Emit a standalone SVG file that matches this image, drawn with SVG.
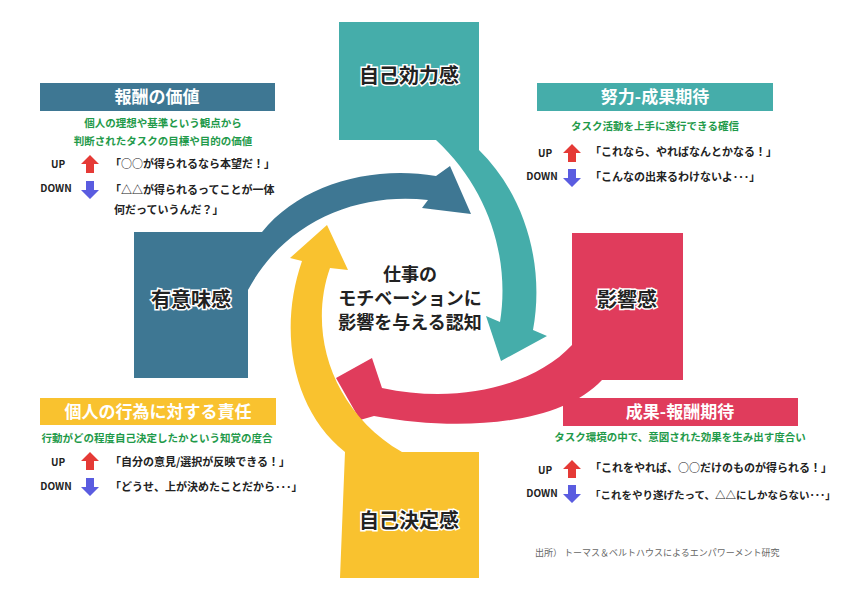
<svg xmlns="http://www.w3.org/2000/svg" width="841" height="595" viewBox="0 0 841 595">
<style>
text{font-family:"Noto Sans CJK JP","Noto Sans",sans-serif;font-weight:700}
.big{font-size:20px;fill:#222;stroke:#fff;stroke-width:3px;paint-order:stroke;text-anchor:middle}
.hd{font-size:17px;fill:#fff;text-anchor:middle}
.gr{font-size:10.5px;fill:#1f9a4a;text-anchor:middle}
.q{font-size:11px;fill:#222}
.ud{font-size:10px;fill:#222;text-anchor:middle}
.ctr{font-size:18px;fill:#222;text-anchor:middle}
</style>
<defs>
<path id="up" d="M0,-9 L9,0 L4,0 L4,9 L-4,9 L-4,0 L-9,0 Z" fill="#e53a36"/>
<path id="dn" d="M0,9 L9,0 L4,0 L4,-9 L-4,-9 L-4,0 L-9,0 Z" fill="#5a5ce0"/>
</defs>
<rect width="841" height="595" fill="#fff"/>
<g id="connectors">
<path d="M339,22 H479 V150 C525,195 545,265 533,330 L547,336 L501,361 L486,316 L500,322 C510,260 490,190 436,140 H339 Z" fill="#45adaa"/>
<path d="M134,232 H262 C300,185 370,165 436,176 L450,166 L471,214 L422,208 L428,200 C360,192 285,220 248,290 V378 H134 Z" fill="#3e7793"/>
<path d="M572,233 H683 V380 H602 C560,425 460,432 374,416 L360,420 L336,378 L372,358 L382,388 C460,405 535,385 572,345 Z" fill="#e03c5c"/>
<path d="M340,578 H479 V452 H402 C330,410 308,330 330,268 L348,270 L327,225 L290,258 L302,261 C278,330 292,410 345,452 Z" fill="#f9c22f"/>
</g>
<g id="n-center"><text class="ctr" x="410" y="281">仕事の</text><text class="ctr" x="410" y="305">モチベーションに</text><text class="ctr" x="410" y="329">影響を与える認知</text></g>
<g id="n-jiko"><text class="big" x="409" y="83">自己効力感</text></g>
<g id="n-yuui"><text class="big" x="191" y="307">有意味感</text></g>
<g id="n-eikyo"><text class="big" x="627" y="307">影響感</text></g>
<g id="n-kettei"><text class="big" x="409" y="528">自己決定感</text></g>
<g id="n-hoshu">
<rect x="40" y="83" width="235" height="28" fill="#3e7793"/><text class="hd" x="157" y="103">報酬の価値</text>
<text class="gr" x="163" y="127">個人の理想や基準という観点から</text>
<text class="gr" x="163" y="145">判断されたタスクの目標や目的の価値</text>
<text class="ud" x="58" y="168">UP</text><use href="#up" x="90" y="164"/><text class="q" x="110" y="168">「○○が得られるなら本望だ！」</text>
<text class="ud" x="56" y="192">DOWN</text><use href="#dn" x="90" y="190"/><text class="q" x="110" y="194">「△△が得られるってことが一体</text><text class="q" x="114" y="214">何だっていうんだ？」</text>
</g>
<g id="n-doryoku">
<rect x="537" y="83" width="236" height="28" fill="#45adaa"/><text class="hd" x="655" y="103">努力-成果期待</text>
<text class="gr" x="655" y="130">タスク活動を上手に遂行できる確信</text>
<text class="ud" x="545" y="157">UP</text><use href="#up" x="572" y="153"/><text class="q" x="590" y="156">「これなら、やればなんとかなる！」</text>
<text class="ud" x="542" y="180">DOWN</text><use href="#dn" x="572" y="178"/><text class="q" x="590" y="181">「こんなの出来るわけないよ･･･」</text>
</g>
<g id="n-sekinin">
<rect x="40" y="398" width="236" height="27" fill="#f9c22f"/><text class="hd" x="158" y="418">個人の行為に対する責任</text>
<text class="gr" x="157" y="442">行動がどの程度自己決定したかという知覚の度合</text>
<text class="ud" x="58" y="466">UP</text><use href="#up" x="90" y="461"/><text class="q" x="110" y="466">「自分の意見/選択が反映できる！」</text>
<text class="ud" x="56" y="490">DOWN</text><use href="#dn" x="90" y="487"/><text class="q" x="110" y="491">「どうせ、上が決めたことだから･･･」</text>
</g>
<g id="n-seika">
<rect x="563" y="398" width="235" height="28" fill="#e03c5c"/><text class="hd" x="680" y="418">成果-報酬期待</text>
<text class="gr" x="680" y="441">タスク環境の中で、意図された効果を生み出す度合い</text>
<text class="ud" x="545" y="474">UP</text><use href="#up" x="572" y="469"/><text class="q" x="590" y="472">「これをやれば、○○だけのものが得られる！」</text>
<text class="ud" x="542" y="497">DOWN</text><use href="#dn" x="572" y="494"/><text class="q" x="590" y="499" style="font-size:10.5px">「これをやり遂げたって、△△にしかならない･･･」</text>
</g>
<text x="535" y="556" style="font-size:9px;font-weight:400;fill:#666">出所） トーマス＆ベルトハウスによるエンパワーメント研究</text>
</svg>
